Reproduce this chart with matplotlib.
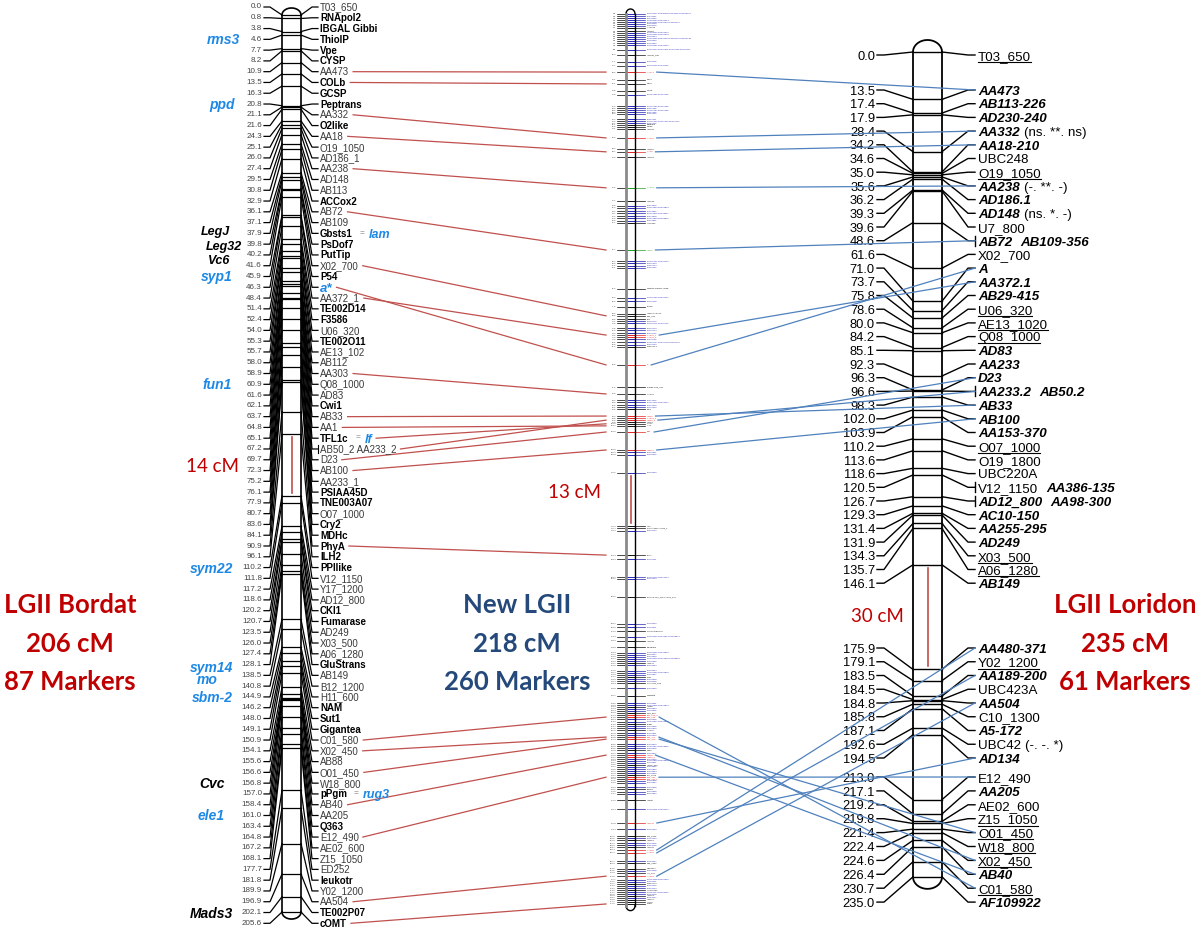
import matplotlib
matplotlib.use("Agg")
import matplotlib.pyplot as plt
import numpy as np

# ======================= DATA =======================
# ---- LGII Bordat (left map) ----
LEFT_CM = [0.0, 0.8, 3.8, 4.6, 7.7, 8.2, 10.9, 13.5, 16.3, 20.8, 21.1, 21.6, 24.3, 25.1, 26.0,
           27.4, 29.5, 30.8, 32.9, 36.1, 37.1, 37.9, 39.8, 40.2, 41.6, 45.9, 46.3, 48.4, 51.4,
           52.4, 54.0, 55.3, 55.7, 58.0, 58.9, 60.9, 61.6, 62.1, 63.7, 64.8, 65.1, 67.2, 69.7,
           72.3, 75.2, 76.1, 77.9, 80.7, 83.6, 84.1, 90.9, 96.1, 110.2, 111.8, 117.2, 118.6,
           120.2, 120.7, 123.5, 126.0, 127.4, 128.1, 138.5, 140.8, 144.9, 146.2, 148.0, 149.1,
           150.9, 154.1, 155.6, 156.6, 156.8, 157.0, 158.4, 161.0, 163.4, 164.8, 167.2, 168.1,
           177.7, 181.8, 189.9, 196.9, 202.1, 205.6]
LEFT_NAMES = ["T03_650", "RNApol2", "IBGAL Gibbi", "ThiolP", "Vpe", "CYSP", "AA473", "COLb",
              "GCSP", "Peptrans", "AA332", "O2like", "AA18", "O19_1050", "AD186_1", "AA238",
              "AD148", "AB113", "ACCox2", "AB72", "AB109", "Gbsts1", "PsDof7", "PutTip",
              "X02_700", "P54", "a*", "AA372_1", "TE002D14", "F3586", "U06_320", "TE002O11",
              "AE13_102", "AB112", "AA303", "Q08_1000", "AD83", "Cwi1", "AB33", "AA1", "TFL1c",
              "AB50_2 AA233_2", "D23", "AB100", "AA233_1", "PSIAA45D", "TNE003A07", "O07_1000",
              "Cry2", "MDHc", "PhyA", "ILH2", "PPIlike", "V12_1150", "Y17_1200", "AD12_800",
              "CKI1", "Fumarase", "AD249", "X03_500", "A06_1280", "GluStrans", "AB149",
              "B12_1200", "H11_600", "NAM", "Sut1", "Gigantea", "C01_580", "X02_450", "AB88",
              "O01_450", "W18_800", "pPgm", "AB40", "AA205", "Q363", "E12_490", "AE02_600",
              "Z15_1050", "ED252", "leukotr", "Y02_1200", "AA504", "TE002P07", "cOMT"]
LEFT_BOLD = {"RNApol2", "IBGAL Gibbi", "ThiolP", "Vpe", "CYSP", "COLb", "GCSP", "Peptrans",
             "O2like", "ACCox2", "Gbsts1", "PsDof7", "PutTip", "P54", "TE002D14", "F3586",
             "TE002O11", "Cwi1", "TFL1c", "PSIAA45D", "TNE003A07", "Cry2", "MDHc", "PhyA",
             "ILH2", "PPIlike", "CKI1", "Fumarase", "GluStrans", "NAM", "Sut1", "Gigantea",
             "pPgm", "Q363", "leukotr", "TE002P07", "cOMT"}
LEFT_NOTES = {"Gbsts1": "lam", "TFL1c": "lf", "pPgm": "rug3"}
GENES = ["rms3", "ppd", "LegJ", "Leg32", "Vc6", "syp1", "fun1", "sym22", "sym14", "mo",
         "sbm-2", "Cvc", "ele1", "Mads3"]
GENE_CM = [4.6, 20.8, 37.9, 39.8, 40.2, 45.9, 60.9, 110.2, 128.1, 138.5, 144.9, 156.8, 161.0, 202.1]
GENE_BLACK = {"LegJ", "Leg32", "Vc6", "Cvc", "Mads3"}

# ---- New LGII (middle map) ----
MID_CM = [0.0, 0.5, 1.0, 1.5, 2.0, 2.4, 2.9, 3.4, 4.2, 4.6,
          5.1, 5.6, 6.1, 6.6, 7.1, 7.6, 8.8, 10.0, 11.7, 12.7,
          14.2, 16.1, 17.1, 18.8, 19.8, 22.5, 23.0, 23.5, 24.0, 24.4,
          25.7, 26.2, 26.7, 27.1, 27.6, 28.1, 30.3, 33.0, 33.7, 35.0,
          42.5, 45.7, 46.9, 47.4, 48.2, 48.7, 49.4, 49.9, 50.6, 51.1,
          57.7, 60.4, 60.9, 61.6, 62.1, 67.2, 69.4, 70.2, 71.6, 73.3,
          73.8, 74.6, 75.1, 75.6, 76.8, 77.3, 78.0, 78.5, 79.0, 79.5,
          80.2, 80.9, 81.4, 85.8, 91.2, 92.9, 94.4, 94.9, 95.6, 96.1,
          96.6, 98.3, 98.8, 99.3, 99.8, 100.2, 100.7, 102.2, 106.6, 107.1,
          107.8, 112.2, 125.2, 125.7, 126.4, 132.3, 133.3, 137.7, 138.1, 142.5,
          149.1, 149.9, 150.9, 152.3, 153.3, 154.8, 156.2, 156.7, 157.2, 157.7,
          158.2, 158.7, 159.2, 160.6, 161.1, 161.6, 162.1, 162.6, 163.1, 163.6,
          164.8, 166.7, 168.5, 169.0, 169.4, 169.9, 170.4, 170.9, 171.4, 171.9,
          172.4, 173.1, 173.6, 174.1, 174.6, 175.1, 175.8, 176.3, 176.8, 177.3,
          178.5, 179.0, 179.5, 180.0, 180.7, 181.2, 181.7, 182.2, 182.6, 183.1,
          183.6, 184.1, 184.6, 185.1, 185.6, 186.1, 186.6, 187.0, 187.5, 188.0,
          189.0, 189.5, 190.2, 190.7, 192.2, 194.4, 197.8, 199.3, 201.0, 201.5,
          202.0, 202.7, 203.2, 203.7, 204.4, 205.1, 207.1, 207.6, 209.0, 209.5,
          210.0, 210.8, 211.7, 212.2, 212.7, 213.2, 213.7, 214.2, 214.7, 215.2,
          215.6, 216.1, 216.6, 217.1, 217.6]
MID_KIND = ("bbbbbbbkkb" "bbbbbbbkbb" "rkkkbbbbbb" "bbbkkkrkrk" "gkbbbbbbbk"
            "gbbbbkbbkk" "kkbbbbbrrb" "bbkrkkbbbb" "krrrkkkrrb" "bbkkbkbbbk"
            "bbkbkkbbbb" "bkbbbbkbbk" "bkbbkbbkrr" "bbkbbkbbrr" "bbbkbrrbbb"
            "kbbbbkrrbb" "bkbbkbrbkb" "kbbkrrbkkb" "krbbkbbkbb" "kbkkk")
MID_LABELS = [
    "PsC40217 PsC40218 PsC40219 PsC40220", "PsC40221", "PsC40222", "PsC21033 PsC21034",
    "PsC21035 PsC21036 PsC21037", "PsC21038", "PsC21039", "AA1002", "AD280", "PsC21040 PsC21041",
    "PsC21042 PsC21043", "PsC21044", "PsC21045 PsC21046 PsC21047 PsC21048", "PsC21049",
    "PsC21050", "PsC21051 PsC21052", "PsC30114 PsC30115 PsC30116 PsC30117", "AD230_240",
    "PsC30118", "PsC30119 PsC30120",
    "AA473", "CYSP", "COLb", "GCSP", "PsC11902 PsC11903", "PsC11904 PsC11905", "PsC11906",
    "PsC11907 PsC11908", "PsC11909", "PsC11910",
    "PsC11911", "PsC11912 PsC11913 PsC11914", "PsC11915", "Peptrans", "O2like", "AD232",
    "AA332", "AB119", "AA18", "AD186",
    "AA238", "AD148", "PsC09812", "PsC09813 PsC09814", "PsC09815", "PsC09816 PsC09817",
    "PsC09818", "PsC09819 PsC09820", "PsC09821", "ACCox2",
    "AB72", "PsC05521 PsC05522", "PsC05523", "PsC05524", "PsC05525", "Gbsts1 PsDof7 AD68",
    "PsC05526 PsC05527", "PsC05528", "PutTip", "AB109 AD174",
    "X02_700", "P54", "PsC07710", "PsC07711 PsC07712", "PsC07713", "PsC07714", "PsC07715",
    "AA372_1", "AA372_2", "PsC07716",
    "PsC07717 PsC07718 PsC07719", "PsC07720", "TE002D14", "a", "F3586 U06_320", "AA303",
    "PsC02215", "PsC02216 PsC02217", "PsC02218", "PsC02219",
    "Cwi1", "AB33", "AA233_2", "AB50_2", "AD83", "TFL1c", "AA1", "D23", "AB100", "PsC03341",
    "PsC03342", "PsC03343", "ILH2", "PSIAA45D AA233_1", "PsC04410", "PhyA", "PsC04411",
    "PsC04412 PsC04413", "PsC04414", "PPIlike V12_1150 AD12_800",
    "PsC06610", "PsC06611", "CKI1 Fumarase", "PsC06612 PsC06613 PsC06614", "AD249",
    "GluStrans", "PsC06615 PsC06616", "PsC06617", "PsC06618", "PsC06619 PsC06620 PsC06621",
    "PsC06622", "AB149", "PsC06623", "PsC06624", "PsC06625 PsC06626", "PsC06627", "NAM",
    "PsC06628", "PsC06629", "Sut1 H11_600",
    "PsC06630", "Gigantea", "PsC08801", "PsC08802 PsC08803", "AB88", "PsC08804", "PsC08805",
    "W18_800", "C01_580_2", "C01_580",
    "PsC08806", "PsC08807 PsC08808", "pPgm", "PsC08809", "PsC08810", "AA205", "PsC08811",
    "PsC08812", "X02_450", "O01_450",
    "PsC08813", "PsC08814 PsC08815", "PsC08816", "Q363", "PsC08817", "AB40", "AB40_2",
    "PsC08818", "PsC08819 PsC08820", "PsC08821",
    "AE02_600", "PsC08822", "PsC08823", "PsC08824", "PsC08825", "Z15_1050", "E12_490",
    "E12_490_2", "PsC08826", "PsC08827",
    "PsC08828", "ED252", "PsC08829", "PsC08830", "leukotr", "PsC12001 PsC12002", "AD134",
    "PsC12003", "Y02_1200", "PsC12004",
    "AB158", "PsC12005", "PsC12006", "AD241", "AA480", "AA189", "PsC12007", "C10_1300",
    "UBC423A", "PsC12008",
    "A5_172", "AA504", "PsC12009 PsC12010", "PsC12011", "TE002P07", "PsC12012", "PsC12013",
    "AF109922", "PsC12014 PsC12015", "PsC12016",
    "AD156", "PsC12017", "AB131", "AC10", "cOMT"]

# ---- LGII Loridon (right map) ----
RIGHT_CM = [0.0, 13.5, 17.4, 17.9, 28.4, 34.2, 34.6, 35.0, 35.6, 36.2, 39.3, 39.6, 48.6, 61.6,
            71.0, 73.7, 75.8, 78.6, 80.0, 84.2, 85.1, 92.3, 96.3, 96.6, 98.3, 102.0, 103.9,
            110.2, 113.6, 118.6, 120.5, 126.7, 129.3, 131.4, 131.9, 134.3, 135.7, 146.1,
            175.9, 179.1, 183.5, 184.5, 184.8, 185.8, 187.1, 192.6, 194.5,
            213.0, 217.1, 219.2, 219.8, 221.4, 222.4, 224.6, 226.4, 230.7, 235.0]
RIGHT_NAMES = ["T03_650", "AA473", "AB113-226", "AD230-240", "AA332 (ns. **. ns)", "AA18-210",
               "UBC248", "O19_1050", "AA238 (-. **. -)", "AD186.1", "AD148 (ns. *. -)",
               "U7_800", "AB72  AB109-356", "X02_700", "A", "AA372.1", "AB29-415", "U06_320",
               "AE13_1020", "Q08_1000", "AD83", "AA233", "D23", "AA233.2  AB50.2", "AB33",
               "AB100", "AA153-370", "O07_1000", "O19_1800", "UBC220A", "V12_1150  AA386-135",
               "AD12_800  AA98-300", "AC10-150", "AA255-295", "AD249", "X03_500", "A06_1280",
               "AB149", "AA480-371", "Y02_1200", "AA189-200", "UBC423A", "AA504", "C10_1300",
               "A5-172", "UBC42 (-. -. *)", "AD134", "E12_490", "AA205", "AE02_600",
               "Z15_1050", "O01_450", "W18_800", "X02_450", "AB40", "C01_580", "AF109922"]
RIGHT_BI = {"AA473", "AB113-226", "AD230-240", "AA332", "AA18-210", "AA238", "AD186.1", "AD148",
            "AB72", "AB109-356", "A", "AA372.1", "AB29-415", "AD83", "AA233", "D23", "AA233.2",
            "AB50.2", "AB33", "AB100", "AA153-370", "AA386-135", "AD12_800", "AA98-300",
            "AC10-150", "AA255-295", "AD249", "AB149", "AA480-371", "AA189-200", "AA504",
            "A5-172", "AD134", "AA205", "AB40", "AF109922"}
RIGHT_UL = {"T03_650", "O19_1050", "U06_320", "AE13_1020", "Q08_1000", "O07_1000", "X03_500",
            "A06_1280", "Y02_1200", "Z15_1050", "O01_450", "W18_800", "X02_450", "C01_580"}

# ---- links ----
LEFT_TO_MID_NAME = ["AA473", "COLb", "AA332", "AA18", "AA238", "AB72", "X02_700", "a*",
                    "AA372_1", "AA303", "AB33", "AA1", "TFL1c", "AB50_2 AA233_2", "D23", "AB100",
                    "PhyA", "C01_580", "X02_450", "O01_450", "AB40", "E12_490", "AA504", "cOMT"]
LEFT_TO_MID_CM = [14.2, 17.1, 30.3, 33.7, 42.5, 57.7, 73.8, 85.8, 78.5, 92.9, 98.3, 100.7,
                  100.2, 99.3, 102.2, 106.6, 132.3, 171.9, 176.8, 177.3, 181.2, 186.6, 210.8, 217.6]
MID_TO_RIGHT_CM = [14.2, 30.3, 33.7, 42.5, 57.7, 78.5, 85.8, 102.2, 99.3, 98.3, 106.6, 171.9,
                   176.8, 177.3, 181.2, 186.6, 197.8, 204.4, 205.1, 210.8]
MID_TO_RIGHT_NAME = ["AA473", "AA332", "AA18-210", "AA238", "AB72", "AA372.1", "A", "D23",
                     "AA233.2", "AB33", "AB100", "C01_580", "X02_450", "O01_450", "AB40",
                     "E12_490", "AD134", "AA480-371", "AA189-200", "AA504"]

GAP_TEXT = ["14 cM", "13 cM", "30 cM"]
GAP_FROM_TO = [(96.1, 110.2), (112.2, 125.2), (146.1, 175.9)]
TITLES = [["LGII Bordat", "206 cM", "87 Markers"],
          ["New LGII", "218 cM", "260 Markers"],
          ["LGII Loridon", "235 cM", "61 Markers"]]

# ======================= STYLE / LAYOUT =======================
FONT = ["Liberation Sans", "DejaVu Sans"]
TFONT = ["Lato", "DejaVu Sans"]
RED_T = "#C00000"
BLUE_T = "#24497A"
RED_L = "#C0504D"
BLUE_L = "#4F81BD"
GENE_BLUE = "#1E88E5"
KIND_COL = {"b": "#2727B5", "k": "#111111", "r": "#E52020", "g": "#1E9E1E"}
GENE_RIGHT_X = [240, 235, 230, 242, 230, 233, 232, 233, 233, 218, 233, 225, 225, 233]
GENE_DY = [0, 0, -2.5, 1.5, 4.5, 0, 0, 0, 2, 4, 0, 0, 0, 0]
GENE_FS = [10, 10, 9, 9, 9, 10, 10, 10, 10, 10, 10, 10, 10, 10]

W, H = 1200, 934
fig = plt.figure(figsize=(12, 9.34), dpi=100)
ax = fig.add_axes([0, 0, 1, 1])
ax.set_xlim(0, W)
ax.set_ylim(H, 0)
ax.axis("off")
R = fig.canvas.get_renderer()
PX = 100 / 72.0


def width_of(t):
    return t.get_window_extent(renderer=R).width


def label(x, y, s, size, **kw):
    """text whose cap-height is centred on y"""
    return ax.text(x, y + 0.36 * size * PX, s, fontsize=size, family=FONT,
                   ha="left", va="baseline", **kw)


def chromosome(x0, x1, top, bot, cap, lcol="black", lw=1.2, lwl=1.2):
    t = np.linspace(0, np.pi, 50)
    cx, r = (x0 + x1) / 2, (x1 - x0) / 2
    ax.plot(cx - r * np.cos(t), top - cap * np.sin(t), color="black", lw=lw, zorder=3)
    ax.plot(cx - r * np.cos(t), bot + cap * np.sin(t), color="black", lw=lw, zorder=3)
    ax.plot([x0, x0], [top, bot], color=lcol, lw=lwl, zorder=3)
    ax.plot([x1, x1], [top, bot], color="black", lw=lw, zorder=3)


# ---------------- left map ----------------
L_ROW0, L_ROWD = 7.0, 10.78
L_Y0, L_K = 15.0, 4.363
L_NUM_X, L_C0, L_C1, L_LAB_X = 262, 282, 301, 320


def l_chy(cm):
    return L_Y0 + L_K * cm


left_end = {}
left_row_y = {}
for i, (cm, name) in enumerate(zip(LEFT_CM, LEFT_NAMES)):
    ry = L_ROW0 + i * L_ROWD
    cy = l_chy(cm)
    left_row_y[name] = ry
    ax.text(L_NUM_X, ry, f"{cm:.1f}", fontsize=5.8, color="#444444", family=FONT,
            ha="right", va="center")
    ax.plot([264, 270, L_C0], [ry, ry, cy], color="black", lw=0.9, zorder=2)
    ax.plot([L_C0, L_C1], [cy, cy], color="black", lw=0.9, zorder=2)
    ax.plot([L_C1, 312, 318], [cy, ry, ry], color="black", lw=0.9, zorder=2)
    if name == "a*":
        t = label(L_LAB_X, ry, name, 9.5, color=GENE_BLUE, fontweight="bold", fontstyle="italic")
    else:
        bold = name in LEFT_BOLD
        t = label(L_LAB_X, ry, name, 7, color="black" if bold else "#3a3a3a",
                  fontweight="bold" if bold else "normal")
    end = L_LAB_X + width_of(t)
    if name in LEFT_NOTES:
        ax.text(end + 7, ry, "=", fontsize=6, color="#777777", family=FONT, ha="left", va="center")
        t2 = label(end + 16, ry, LEFT_NOTES[name], 9, color=GENE_BLUE,
                   fontweight="bold", fontstyle="italic")
        end = end + 16 + width_of(t2)
    if " " in name and name != "IBGAL Gibbi":
        ax.plot([318, 318], [ry - 4, ry + 4], color="black", lw=0.8)
    left_end[name] = end

chromosome(L_C0, L_C1, l_chy(0), l_chy(LEFT_CM[-1]), 7, lw=1.2)

for g, cm, xr, dy, fs in zip(GENES, GENE_CM, GENE_RIGHT_X, GENE_DY, GENE_FS):
    i = LEFT_CM.index(cm)
    ry = L_ROW0 + i * L_ROWD + dy
    ax.text(xr, ry + 0.36 * fs * PX, g, fontsize=fs,
            color="black" if g in GENE_BLACK else GENE_BLUE,
            family=FONT, fontweight="bold", fontstyle="italic", ha="right", va="baseline")

# ---------------- middle map ----------------
M_Y0, M_K = 14.0, 4.09
M_C0, M_C1 = 626, 635


def m_y(cm):
    return M_Y0 + M_K * cm


mid_end = []
for cm, kind, lab in zip(MID_CM, MID_KIND, MID_LABELS):
    y = m_y(cm)
    col = KIND_COL[kind]
    ax.plot([617, M_C0], [y, y], color="black", lw=0.5, zorder=2)
    ax.plot([M_C0, M_C1], [y, y], color=col, lw=0.7, zorder=2)
    ax.plot([M_C1, 645], [y, y], color=col, lw=0.5, zorder=2)
    ax.text(616, y, f"{cm:.1f}", fontsize=1.6, color="#333333", family=FONT, ha="right", va="center")
    t = ax.text(647, y, lab, fontsize=1.6, color=col, family=FONT, ha="left", va="center")
    mid_end.append(647 + width_of(t))

chromosome(M_C0, M_C1, m_y(0), m_y(218), 5, lcol="#8a8a8a", lw=1.0, lwl=2.0)

# ---------------- right map ----------------
R_GROUPS = [(0, 55.0, 0.0), (1, 90.0, 13.7), (38, 648.0, 13.75), (47, 777.0, 13.9)]
R_Y0, R_K = 52.0, 3.51
R_NUM_X, R_C0, R_C1, R_LAB_X = 875, 913, 942, 978
R_FS = 9.6


def r_row(i):
    for start, y0, d in reversed(R_GROUPS):
        if i >= start:
            return y0 + (i - start) * d


def r_chy(cm):
    return R_Y0 + R_K * cm


right_row_y = {}
for i, (cm, name) in enumerate(zip(RIGHT_CM, RIGHT_NAMES)):
    ry = r_row(i)
    cy = r_chy(cm)
    ax.text(R_NUM_X, ry + 0.36 * 9.3 * PX, f"{cm:.1f}", fontsize=9.3, color="black", family=FONT,
            ha="right", va="baseline")
    ax.plot([877, 884, R_C0], [ry, ry, cy], color="black", lw=1.0, zorder=2)
    ax.plot([R_C0, R_C1], [cy, cy], color="black", lw=1.0, zorder=2)
    ax.plot([R_C1, 968, 975], [cy, ry, ry], color="black", lw=1.0, zorder=2)
    parts = name.split("  ")
    if len(parts) > 1:
        ax.plot([975, 975], [ry - 5, ry + 5], color="black", lw=1.0)
    x = R_LAB_X
    for k, part in enumerate(parts):
        if k > 0:
            x += 8
        if " (" in part:
            marker, note = part.split(" (", 1)
            note = "(" + note
        else:
            marker, note = part, ""
        right_row_y[marker] = ry
        bi = marker in RIGHT_BI
        t = label(x, ry, marker, R_FS, color="black",
                  fontweight="bold" if bi else "normal",
                  fontstyle="italic" if bi else "normal")
        w = width_of(t)
        if marker in RIGHT_UL:
            yb = ry + 0.36 * R_FS * PX + 2
            ax.plot([x, x + w], [yb, yb], color="black", lw=0.8)
        x += w
        if note:
            t2 = label(x + 4, ry, note, R_FS, color="black")
            x += 4 + width_of(t2)

chromosome(R_C0, R_C1, r_chy(0), r_chy(RIGHT_CM[-1]), 12, lw=1.3, lwl=1.3)

# ---------------- gaps ----------------
for (txt, (a, b), fn, x, xt, yt) in zip(
        GAP_TEXT, GAP_FROM_TO, [l_chy, m_y, r_chy], [292, 631, 928],
        [186, 548, 851], [467, 493, 617]):
    ax.plot([x, x], [fn(a) + 3, fn(b) - 3], color=RED_L, lw=1.2, zorder=4)
    ax.text(xt, yt, txt, fontsize=13.5, color=RED_T, family=TFONT, ha="left", va="center")

# ---------------- links ----------------
def mid_index(cm):
    return int(np.argmin([abs(c - cm) for c in MID_CM]))


for name, cm in zip(LEFT_TO_MID_NAME, LEFT_TO_MID_CM):
    ry = left_row_y[name]
    ax.plot([left_end[name] + 4, 606], [ry, m_y(cm)], color=RED_L, lw=0.9, zorder=1)

for cm, name in zip(MID_TO_RIGHT_CM, MID_TO_RIGHT_NAME):
    j = mid_index(cm)
    ax.plot([mid_end[j] + 3, 975], [m_y(cm), right_row_y[name]], color=BLUE_L, lw=0.9, zorder=5)

# ---------------- titles ----------------
for lines, x, col in zip(TITLES, [70, 517, 1125], [RED_T, BLUE_T, RED_T]):
    for k, line in enumerate(lines):
        ax.text(x, 605 + 38.5 * k, line, fontsize=18.5, color=col, family=TFONT,
                fontweight="bold", ha="center", va="center")

fig.savefig("out.png", dpi=100)
